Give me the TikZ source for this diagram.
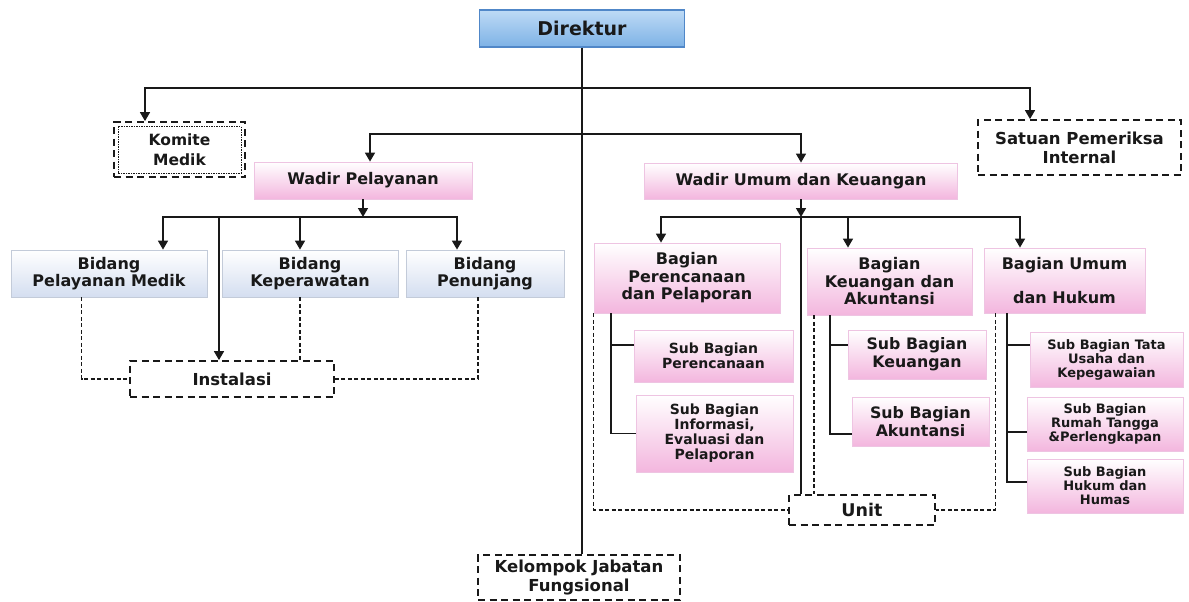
\documentclass[tikz,border=0pt]{standalone}
\usepackage{fontspec}
\setmainfont{DejaVu Sans}
\usepackage{tikz}
\usetikzlibrary{arrows.meta,calc}
\definecolor{pinkfill}{RGB}{243,182,222}
\definecolor{pinkline}{RGB}{238,196,226}
\definecolor{greyfill}{RGB}{212,222,240}
\definecolor{dirtop}{RGB}{190,218,245}
\definecolor{dirbot}{RGB}{125,178,230}
\definecolor{dirline}{RGB}{80,135,200}
\definecolor{ink}{RGB}{25,25,25}
\newcommand{\fsize}[2]{\fontsize{#1}{#2}\selectfont}

\begin{document}
\begin{tikzpicture}[x=1pt, y=-1pt,
  pbox/.style={draw=pinkline, line width=0.8pt, top color=white, bottom color=pinkfill,
               align=center, text=ink, font=\bfseries\fsize{16}{17.5}, inner sep=2pt},
  gbox/.style={pbox, draw=greyfill!80!gray, bottom color=greyfill},
  sbox/.style={pbox, font=\bfseries\fsize{14}{15}},
  tbox/.style={pbox, font=\bfseries\fsize{13}{14}},
  dirbox/.style={draw=dirline, line width=1.2pt, top color=dirtop, bottom color=dirbot,
                 align=center, text=ink, font=\bfseries\fsize{19}{20}},
  dbox/.style={draw=ink, line width=1.8pt, dash pattern=on 7pt off 4.5pt, fill=white,
               align=center, text=ink, font=\bfseries\fsize{16.5}{19}, inner sep=2pt},
  arr/.style={-{Triangle[length=9pt, width=10pt]}, line width=1.6pt, draw=ink},
  ln/.style={line width=1.6pt, draw=ink},
  dln/.style={line width=1.6pt, draw=ink, dash pattern=on 4pt off 2.5pt}
]
\useasboundingbox (0,0) rectangle (1189,602);
\node[dirbox, minimum width=205pt, minimum height=37pt] (dir) at (582,28.5) {Direktur};
\node[dbox, font=\bfseries\fsize{15.5}{20}, minimum width=131pt, minimum height=55pt] (komite) at (179.5,149.5) {Komite\\Medik};
\node[dbox, minimum width=203pt, minimum height=55pt] (spi) at (1079.5,147.5) {Satuan Pemeriksa\\Internal};
\node[pbox, minimum width=218pt, minimum height=37pt] (wpel) at (363,180.5) {Wadir Pelayanan};
\node[pbox, minimum width=313pt, minimum height=36pt] (wumum) at (801,181) {Wadir Umum dan Keuangan};
\node[gbox, minimum width=196pt, minimum height=47pt] (bmedik) at (109,273.5) {Bidang\\Pelayanan Medik};
\node[gbox, minimum width=176pt, minimum height=47pt] (bkep) at (310,273.5) {Bidang\\Keperawatan};
\node[gbox, minimum width=158pt, minimum height=47pt] (bpen) at (485,273.5) {Bidang\\Penunjang};
\node[dbox, minimum width=204pt, minimum height=36pt] (inst) at (232,379) {Instalasi};
\node[pbox, minimum width=186pt, minimum height=70pt] (bren) at (687,278) {Bagian\\Perencanaan\\dan Pelaporan};
\node[pbox, minimum width=165pt, minimum height=67pt] (bkeu) at (889.5,281.5) {Bagian\\Keuangan dan\\Akuntansi};
\node[pbox, minimum width=161pt, minimum height=65pt] (bum) at (1064.5,280.5) {Bagian Umum\\[16pt]dan Hukum};
\node[sbox, minimum width=159pt, minimum height=52pt] (sren) at (713.5,356) {Sub Bagian\\Perencanaan};
\node[sbox, minimum width=157pt, minimum height=77pt] (sinf) at (714.5,433.5) {Sub Bagian\\Informasi,\\Evaluasi dan\\Pelaporan};
\node[sbox, font=\bfseries\fsize{15.8}{18}, minimum width=138pt, minimum height=49pt] (skeu) at (917,354.5) {Sub Bagian\\Keuangan};
\node[sbox, font=\bfseries\fsize{15.8}{18}, minimum width=137pt, minimum height=49pt] (sakun) at (920.5,421.5) {Sub Bagian\\Akuntansi};
\node[tbox, minimum width=153pt, minimum height=55pt] (stu) at (1106.5,359.5) {Sub Bagian Tata\\Usaha dan\\Kepegawaian};
\node[tbox, minimum width=156pt, minimum height=54pt] (srt) at (1105,424) {Sub Bagian\\Rumah Tangga\\\&Perlengkapan};
\node[tbox, minimum width=156pt, minimum height=54pt] (shum) at (1105,486) {Sub Bagian\\Hukum dan\\Humas};
\node[dbox, font=\bfseries\fsize{17.5}{19}, minimum width=146pt, minimum height=30pt] (unit) at (862,510) {Unit};
\node[dbox, minimum width=202pt, minimum height=45pt] (kjf) at (579,577.5) {Kelompok Jabatan\\Fungsional};
\draw[line width=0.8pt, dash pattern=on 1.5pt off 1pt, draw=ink]
  ([shift={(5pt,5pt)}]komite.south west) rectangle ([shift={(-5pt,-5pt)}]komite.north east);

% direktur
\coordinate (bar0) at (582,88);
\coordinate (bar1) at (582,134);
\draw[ln] (dir.south) -- (dir.south |- kjf.north);
\draw[arr] (bar0) -| ([xshift=-34.5pt]komite.north);
\draw[arr] (bar0) -| ([xshift=-49.5pt]spi.north);
\draw[arr] (bar1) -| ([xshift=7pt]wpel.north);
\draw[arr] (bar1) -| (wumum.north);

% wadir pelayanan
\coordinate (bar2) at (363,217);
\coordinate (inst-in) at ([xshift=-13pt]inst.north);
\coordinate (kep-out) at ([xshift=-10pt]bkep.south);
\draw[arr] (wpel.south) -- (bar2);
\draw[arr] (bar2) -| ([xshift=54pt]bmedik.north);
\draw[arr] (bar2) -| ([xshift=-10pt]bkep.north);
\draw[arr] (bar2) -| ([xshift=-28pt]bpen.north);
\draw[arr] (inst-in |- bar2) -- (inst-in);
\draw[dln] ([xshift=-27.5pt]bmedik.south) |- (inst.west);
\draw[dln] (kep-out) -- (kep-out |- inst.north);
\draw[dln] ([xshift=-7pt]bpen.south) |- (inst.east);

% wadir umum
\coordinate (bar3) at (801,217);
\coordinate (unit-in) at ([xshift=-61pt]unit.north);
\coordinate (keu-out) at ([xshift=-75.5pt]bkeu.south);
\draw[arr] (wumum.south) -- (bar3);
\draw[arr] (bar3) -| ([xshift=-26pt]bren.north);
\draw[arr] (bar3) -| ([xshift=-41.5pt]bkeu.north);
\draw[arr] (bar3) -| ([xshift=-44.5pt]bum.north);
\draw[ln] (unit-in |- bar3) -- (unit-in);
\draw[dln] (bren.south west) |- (unit.west);
\draw[dln] (keu-out) -- (keu-out |- unit.north);
\draw[dln] ([xshift=12pt]bum.south west) |- (unit.east);

% sub bagian
\coordinate (t1) at ([xshift=-76pt]bren.south);
\coordinate (t2) at ([xshift=-59.5pt]bkeu.south);
\coordinate (t3) at ([xshift=-57.5pt]bum.south);
\draw[ln] (t1) |- ([yshift=11pt]sren.west);
\draw[ln] (t1) |- (sinf.west);
\draw[ln] (t2) |- ([yshift=9.5pt]skeu.west);
\draw[ln] (t2) |- ([yshift=-12.5pt]sakun.west);
\draw[ln] (t3) |- ([yshift=14.5pt]stu.west);
\draw[ln] (t3) |- ([yshift=-8pt]srt.west);
\draw[ln] (t3) |- ([yshift=4pt]shum.west);
\end{tikzpicture}
\end{document}
